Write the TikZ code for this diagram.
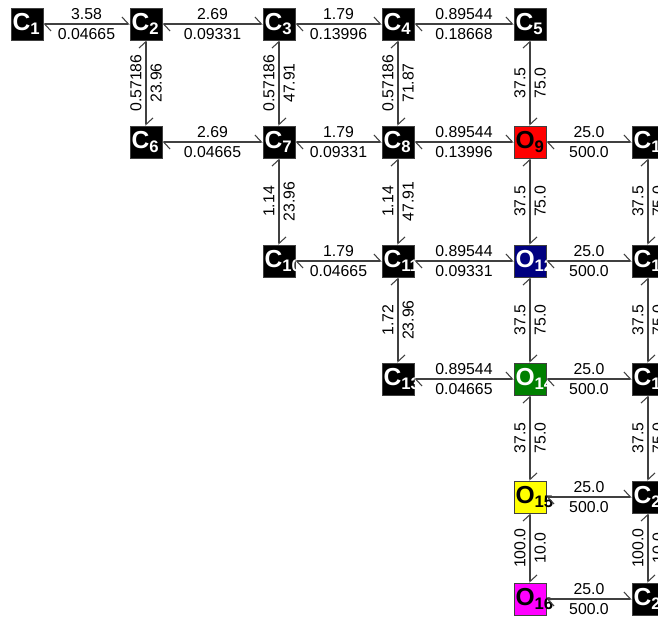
\documentclass[tikz,border=0pt]{standalone}
\usepackage{fontspec}
\setmainfont{Liberation Sans}
\usetikzlibrary{arrows.meta}
\definecolor{bondgray}{RGB}{64,64,64}
\definecolor{oxred}{RGB}{255,0,0}
\definecolor{oxnavy}{RGB}{0,0,128}
\definecolor{oxgreen}{RGB}{0,128,0}
\definecolor{oxyellow}{RGB}{255,255,0}
\definecolor{oxpink}{RGB}{255,0,255}
\newcommand{\nlab}[2]{\makebox[0.58cm][l]{#1\raisebox{-0.09cm}{\fontsize{9.5}{10}\selectfont #2}}}

\begin{document}
\begin{tikzpicture}[x=0.02cm,y=-0.02cm,
  atm/.style={rectangle,draw=bondgray,fill=black,text=white,font=\fontsize{14}{14}\selectfont\bfseries,
              minimum width=0.64cm,minimum height=0.64cm,inner sep=0.03cm},
  ox/.style={atm,fill=#1,text=black},
  bond/.style={{Straight Barb[left,length=0.13cm,width=0.28cm]}-{Straight Barb[left,length=0.13cm,width=0.28cm]},
               bondgray,line width=0.6pt},
  toplab/.style={above,inner sep=0.08cm,font=\fontsize{9}{9}\selectfont,text=black},
  botlab/.style={below,inner sep=0.08cm,font=\fontsize{9}{9}\selectfont,text=black},
  leftlab/.style={rotate=90,anchor=south,inner sep=0.08cm,font=\fontsize{9}{9}\selectfont,text=black},
  rightlab/.style={rotate=90,anchor=north,inner sep=0.08cm,font=\fontsize{9}{9}\selectfont,text=black}
]
\useasboundingbox (0,0) rectangle (658,619);
\clip (0,0) rectangle (658,619);
% carbon chain
\node[atm] (c1) at (27,24) {\nlab{C}{1}};
\node[atm] (c2) at (146,24) {\nlab{C}{2}};
\node[atm] (c3) at (279,24) {\nlab{C}{3}};
\node[atm] (c4) at (398,24) {\nlab{C}{4}};
\node[atm] (c5) at (530,24) {\nlab{C}{5}};
\node[atm] (c6) at (146,142) {\nlab{C}{6}};
\node[atm] (c7) at (279,142) {\nlab{C}{7}};
\node[atm] (c8) at (398,142) {\nlab{C}{8}};
\node[ox=oxred] (o9) at (530,142) {\nlab{O}{9}};
\node[atm] (c10) at (279,261) {\nlab{C}{10}};
\node[atm] (c11) at (398,261) {\nlab{C}{11}};
\node[ox=oxnavy,text=white] (o12) at (530,261) {\nlab{O}{12}};
\node[atm] (c13) at (398,379) {\nlab{C}{13}};
\node[ox=oxgreen,text=white] (o14) at (530,379) {\nlab{O}{14}};
\node[ox=oxyellow] (o15) at (530,497) {\nlab{O}{15}};
\node[ox=oxpink] (o16) at (530,599) {\nlab{O}{16}};
% right column
\node[atm] (c17) at (648,142) {\nlab{C}{17}};
\node[atm] (c18) at (648,261) {\nlab{C}{18}};
\node[atm] (c19) at (648,379) {\nlab{C}{19}};
\node[atm] (c20) at (648,497) {\nlab{C}{20}};
\node[atm] (c21) at (648,599) {\nlab{C}{21}};
% horizontal bonds
\draw[bond] (c1) -- node[toplab]{3.58} node[botlab]{0.04665} (c2);
\draw[bond] (c2) -- node[toplab]{2.69} node[botlab]{0.09331} (c3);
\draw[bond] (c3) -- node[toplab]{1.79} node[botlab]{0.13996} (c4);
\draw[bond] (c4) -- node[toplab]{0.89544} node[botlab]{0.18668} (c5);
\draw[bond] (c6) -- node[toplab]{2.69} node[botlab]{0.04665} (c7);
\draw[bond] (c7) -- node[toplab]{1.79} node[botlab]{0.09331} (c8);
\draw[bond] (c8) -- node[toplab]{0.89544} node[botlab]{0.13996} (o9);
\draw[bond] (o9) -- node[toplab]{25.0} node[botlab]{500.0} (c17);
\draw[bond] (c10) -- node[toplab]{1.79} node[botlab]{0.04665} (c11);
\draw[bond] (c11) -- node[toplab]{0.89544} node[botlab]{0.09331} (o12);
\draw[bond] (o12) -- node[toplab]{25.0} node[botlab]{500.0} (c18);
\draw[bond] (c13) -- node[toplab]{0.89544} node[botlab]{0.04665} (o14);
\draw[bond] (o14) -- node[toplab]{25.0} node[botlab]{500.0} (c19);
\draw[bond] (o15) -- node[toplab]{25.0} node[botlab]{500.0} (c20);
\draw[bond] (o16) -- node[toplab]{25.0} node[botlab]{500.0} (c21);
% vertical bonds
\draw[bond] (c2) -- node[leftlab]{0.57186} node[rightlab]{23.96} (c6);
\draw[bond] (c3) -- node[leftlab]{0.57186} node[rightlab]{47.91} (c7);
\draw[bond] (c4) -- node[leftlab]{0.57186} node[rightlab]{71.87} (c8);
\draw[bond] (c5) -- node[leftlab]{37.5} node[rightlab]{75.0} (o9);
\draw[bond] (c7) -- node[leftlab]{1.14} node[rightlab]{23.96} (c10);
\draw[bond] (c8) -- node[leftlab]{1.14} node[rightlab]{47.91} (c11);
\draw[bond] (c11) -- node[leftlab]{1.72} node[rightlab]{23.96} (c13);
\draw[bond] (o9) -- node[leftlab]{37.5} node[rightlab]{75.0} (o12);
\draw[bond] (o12) -- node[leftlab]{37.5} node[rightlab]{75.0} (o14);
\draw[bond] (o14) -- node[leftlab]{37.5} node[rightlab]{75.0} (o15);
\draw[bond] (o15) -- node[leftlab]{100.0} node[rightlab]{10.0} (o16);
\draw[bond] (c17) -- node[leftlab]{37.5} node[rightlab]{75.0} (c18);
\draw[bond] (c18) -- node[leftlab]{37.5} node[rightlab]{75.0} (c19);
\draw[bond] (c19) -- node[leftlab]{37.5} node[rightlab]{75.0} (c20);
\draw[bond] (c20) -- node[leftlab]{100.0} node[rightlab]{10.0} (c21);
\end{tikzpicture}
\end{document}
